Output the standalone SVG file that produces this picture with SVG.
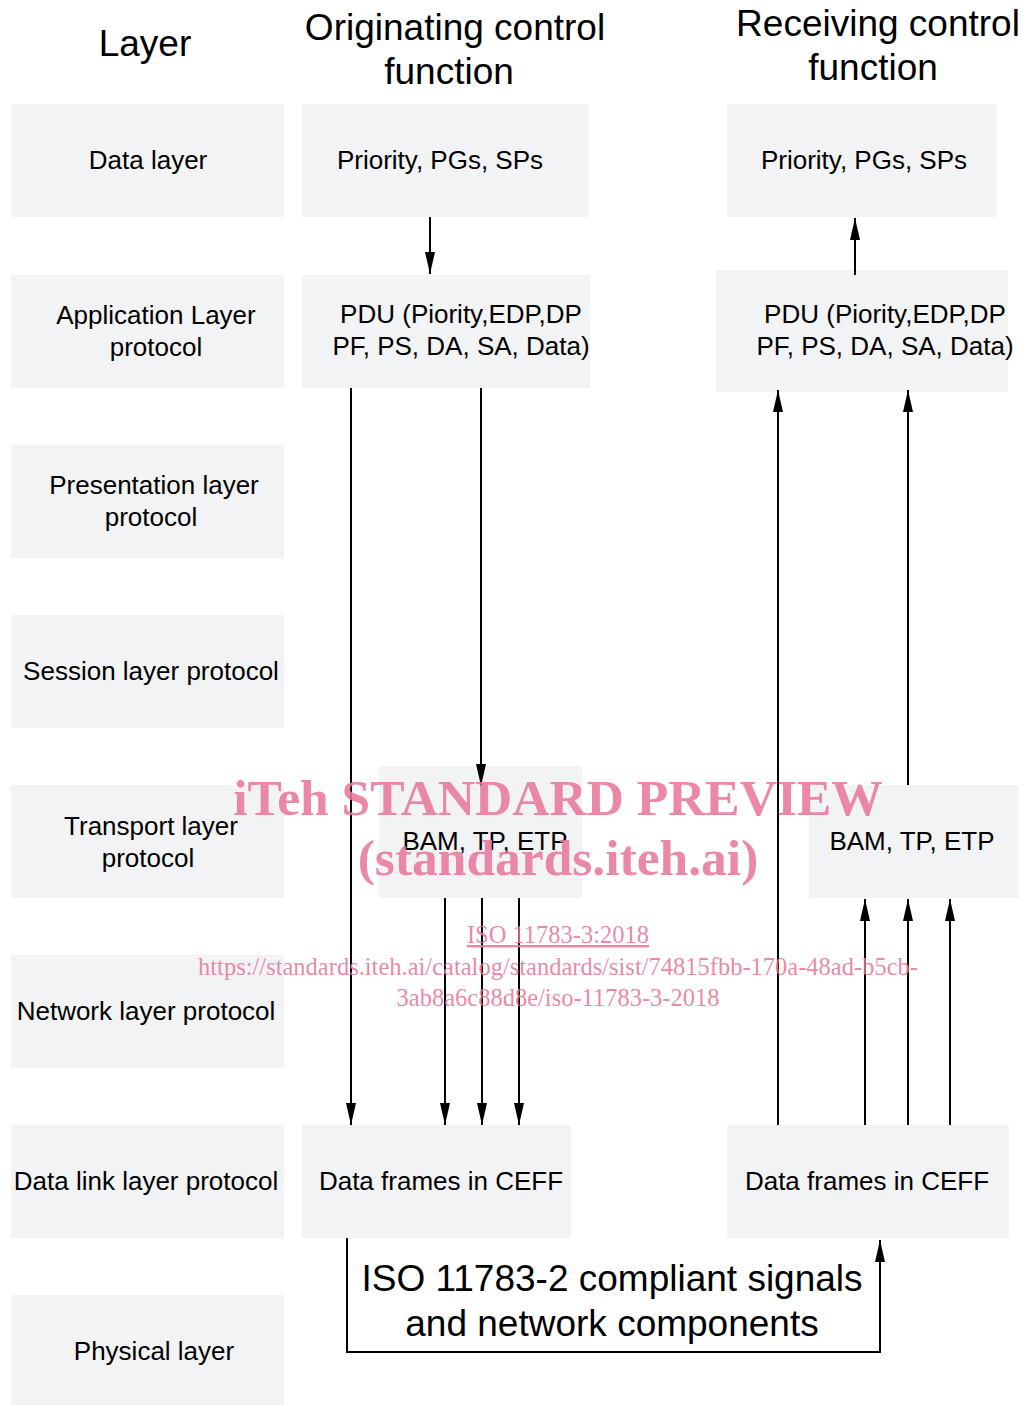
<svg xmlns="http://www.w3.org/2000/svg" width="1022" height="1405" viewBox="0 0 1022 1405">
<style>
.box{fill:#f2f3f5}
.t{font-family:"Liberation Sans",Arial,sans-serif;font-size:26px;fill:#000;text-anchor:middle}
.h{font-family:"Liberation Sans",Arial,sans-serif;font-size:37px;fill:#000;text-anchor:middle}
.c{stroke:#000;stroke-width:2;fill:none}
.wm{font-family:"Liberation Serif","Times New Roman",serif;fill:#e8789a;fill-opacity:0.88;text-anchor:middle}
</style>
<defs>
<marker id="ah" markerWidth="22" markerHeight="10" refX="22" refY="5" viewBox="0 0 22 10" markerUnits="userSpaceOnUse" orient="auto">
<path d="M0,0 L22,5 L0,10 z" fill="#000"/>
</marker>
</defs>
<rect width="1022" height="1405" fill="#fff"/>
<g id="headers">
<text class="h" x="145" y="56">Layer</text>
<text class="h" x="455" y="40">Originating control</text>
<text class="h" x="449" y="84">function</text>
<text class="h" x="878" y="36">Receiving control</text>
<text class="h" x="873" y="80">function</text>
</g>
<g id="layer-data"><rect class="box" x="11" y="104" width="273" height="113"/><text class="t" x="148" y="169">Data layer</text></g>
<g id="layer-app"><rect class="box" x="11" y="275" width="273" height="113"/><text class="t" x="156" y="324">Application Layer</text><text class="t" x="156" y="356">protocol</text></g>
<g id="layer-pres"><rect class="box" x="11" y="445" width="273" height="113"/><text class="t" x="154" y="494">Presentation layer</text><text class="t" x="151" y="526">protocol</text></g>
<g id="layer-sess"><rect class="box" x="11" y="615" width="273" height="113"/><text class="t" x="151" y="680">Session layer protocol</text></g>
<g id="layer-trans"><rect class="box" x="11" y="785" width="273" height="113"/><text class="t" x="151" y="835">Transport layer</text><text class="t" x="148" y="867">protocol</text></g>
<g id="layer-net"><rect class="box" x="11" y="955" width="273" height="113"/><text class="t" x="146" y="1020">Network layer protocol</text></g>
<g id="layer-link"><rect class="box" x="11" y="1125" width="273" height="113"/><text class="t" x="146" y="1190">Data link layer protocol</text></g>
<g id="layer-phys"><rect class="box" x="11" y="1295" width="273" height="110"/><text class="t" x="154" y="1360">Physical layer</text></g>

<g id="orig-data"><rect class="box" x="302" y="104" width="287" height="113"/><text class="t" x="440" y="169">Priority, PGs, SPs</text></g>
<g id="orig-pdu"><rect class="box" x="302" y="275" width="288" height="113"/><text class="t" x="461" y="323">PDU (Piority,EDP,DP</text><text class="t" x="461" y="355">PF, PS, DA, SA, Data)</text></g>
<g id="orig-bam"><rect class="box" x="379" y="766" width="203" height="132"/><text class="t" x="485" y="850">BAM, TP, ETP</text></g>
<g id="orig-frames"><rect class="box" x="302" y="1125" width="269" height="113"/><text class="t" x="441" y="1190">Data frames in CEFF</text></g>

<g id="recv-data"><rect class="box" x="727" y="104" width="270" height="113"/><text class="t" x="864" y="169">Priority, PGs, SPs</text></g>
<g id="recv-pdu"><rect class="box" x="716" y="270" width="292" height="122"/><text class="t" x="885" y="323">PDU (Piority,EDP,DP</text><text class="t" x="885" y="355">PF, PS, DA, SA, Data)</text></g>
<g id="recv-bam"><rect class="box" x="809" y="785" width="209" height="113"/><text class="t" x="912" y="850">BAM, TP, ETP</text></g>
<g id="recv-frames"><rect class="box" x="727" y="1125" width="282" height="113"/><text class="t" x="867" y="1190">Data frames in CEFF</text></g>

<g id="connectors">
<line class="c" x1="430" y1="217" x2="430" y2="274" marker-end="url(#ah)"/>
<line class="c" x1="855" y1="275" x2="855" y2="218" marker-end="url(#ah)"/>
<line class="c" x1="351" y1="388" x2="351" y2="1125" marker-end="url(#ah)"/>
<line class="c" x1="481" y1="388" x2="481" y2="786" marker-end="url(#ah)"/>
<line class="c" x1="445" y1="898" x2="445" y2="1125" marker-end="url(#ah)"/>
<line class="c" x1="482" y1="898" x2="482" y2="1125" marker-end="url(#ah)"/>
<line class="c" x1="519" y1="898" x2="519" y2="1125" marker-end="url(#ah)"/>
<line class="c" x1="778" y1="1125" x2="778" y2="390" marker-end="url(#ah)"/>
<line class="c" x1="908" y1="785" x2="908" y2="390" marker-end="url(#ah)"/>
<line class="c" x1="865" y1="1125" x2="865" y2="899" marker-end="url(#ah)"/>
<line class="c" x1="908" y1="1125" x2="908" y2="899" marker-end="url(#ah)"/>
<line class="c" x1="950" y1="1125" x2="950" y2="899" marker-end="url(#ah)"/>
<polyline class="c" points="347,1238 347,1352 880,1352 880,1240" marker-end="url(#ah)"/>
</g>
<g id="physical-label">
<text class="h" x="612" y="1291" font-size="37.5">ISO 11783-2 compliant signals</text>
<text class="h" x="612" y="1336" font-size="37.5">and network components</text>
</g>
<g id="watermark">
<text class="wm" x="558" y="815" font-size="51.5" font-weight="bold">iTeh STANDARD PREVIEW</text>
<text class="wm" x="558" y="875" font-size="51.5" font-weight="bold">(standards.iteh.ai)</text>
<text class="wm" x="558" y="943" font-size="24.5" text-decoration="underline">ISO 11783-3:2018</text>
<text class="wm" x="558" y="975" font-size="24.5">https://standards.iteh.ai/catalog/standards/sist/74815fbb-170a-48ad-b5cb-</text>
<text class="wm" x="558" y="1006" font-size="24.5">3ab8a6c88d8e/iso-11783-3-2018</text>
</g>
</svg>
